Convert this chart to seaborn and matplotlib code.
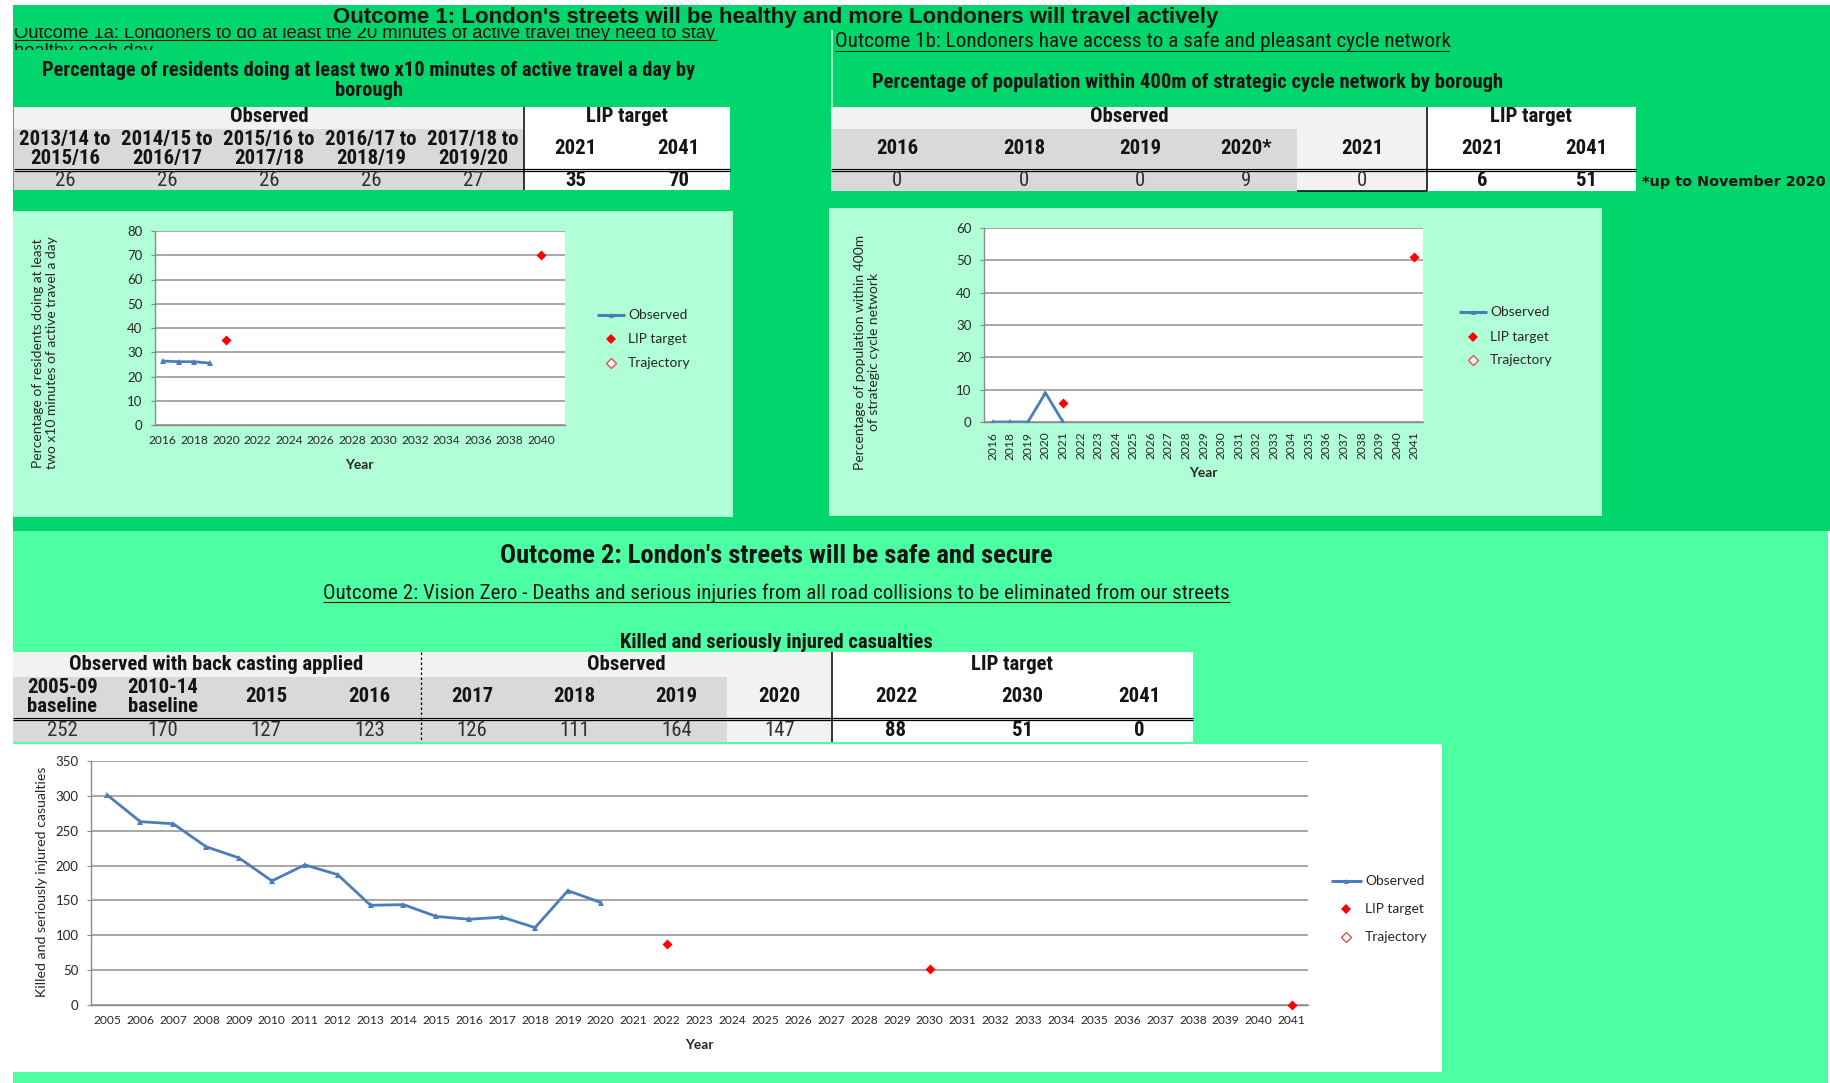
import numpy as np
import pandas as pd
import matplotlib
matplotlib.use("Agg")
import matplotlib.pyplot as plt
import seaborn as sns
from matplotlib import font_manager
from matplotlib.patches import Rectangle
from matplotlib.transforms import Bbox

# ---------------- data ----------------
# Outcome 1a: active travel
active_periods = ["2013/14 to\n2015/16", "2014/15 to\n2016/17", "2015/16 to\n2017/18",
                  "2016/17 to\n2018/19", "2017/18 to\n2019/20"]
active_observed = [26, 26, 26, 26, 27]
active_target_years = ["2021", "2041"]
active_targets = [35, 70]
active_axis_years = [str(y) for y in range(2016, 2042)]
active_line_years = ["2016", "2017", "2018", "2019"]
active_line_values = [26.4, 26.1, 26.1, 25.5]
active_point_years = ["2020", "2040"]

# Outcome 1b: strategic cycle network
cycle_years = ["2016", "2018", "2019", "2020*"]
cycle_observed = [0, 0, 0, 9]
cycle_extra_year = "2021"
cycle_extra_value = 0
cycle_target_years = ["2021", "2041"]
cycle_targets = [6, 51]
cycle_axis_years = ["2016"] + [str(y) for y in range(2018, 2042)]

# Outcome 2: killed and seriously injured casualties
ksi_back_cols = ["2005-09\nbaseline", "2010-14\nbaseline", "2015", "2016"]
ksi_back_values = [252, 170, 127, 123]
ksi_obs_cols = ["2017", "2018", "2019", "2020"]
ksi_obs_values = [126, 111, 164, 147]
ksi_target_years = ["2022", "2030", "2041"]
ksi_targets = [88, 51, 0]
ksi_axis_years = [str(y) for y in range(2005, 2042)]
ksi_line_years = [str(y) for y in range(2005, 2021)]
ksi_line_values = [301, 263, 260, 227, 211, 178, 201, 187, 143, 144,
                   127, 123, 126, 111, 164, 147]

legend_labels = ["Observed", "LIP target", "Trajectory"]

# ---------------- fonts & colours ----------------
names = {f.name for f in font_manager.fontManager.ttflist}


def pick(*cands):
    for c in cands:
        if c in names:
            return c
    return "DejaVu Sans"


def find_narrow():
    for n in ["Liberation Sans Narrow", "Arial Narrow", "Roboto Condensed",
              "Noto Sans Condensed", "Open Sans Condensed", "DejaVu Sans Condensed"]:
        if n in names:
            return n
    for f in font_manager.fontManager.ttflist:
        if f.stretch in ("condensed", "semi-condensed", "extra-condensed") and \
                f.name in ("Noto Sans", "DejaVu Sans", "Open Sans", "Roboto", "Liberation Sans"):
            return f.name
    return pick("Lato", "Liberation Sans")


SANS = pick("Liberation Sans", "Arimo", "DejaVu Sans")
NARROW = find_narrow()
CHART = pick("Lato", "Carlito", "DejaVu Sans")

sns.set_style("white")
plt.rcParams["font.family"] = [CHART, "DejaVu Sans"]

BLUE = "#4A7EBB"
RED = "#FF0000"
TOP_GREEN = "#00D66B"
LOW_GREEN = "#4DFFA3"
MINT = "#B0FFD6"
LIGHT = "#F2F2F2"
GRAY = "#D9D9D9"
INK = "#141414"
GRID = "#A0A0A0"
AXIS = "#8A8A8A"

W, H = 1831, 1083
fig = plt.figure(figsize=(W / 100, H / 100), dpi=100, facecolor="white")
bg = fig.add_axes([0, 0, 1, 1], zorder=0)
bg.set_xlim(0, W)
bg.set_ylim(H, 0)
bg.axis("off")
renderer = fig.canvas.get_renderer()

NKW = dict(family=NARROW, stretch="condensed")


def box(x0, y0, x1, y1, color, z=0.5):
    bg.add_patch(Rectangle((x0, y0), x1 - x0, y1 - y0, facecolor=color,
                           edgecolor="none", zorder=z))


def hline(x0, x1, y, color="black", lw=0.9, **kw):
    bg.plot([x0, x1], [y, y], color=color, lw=lw, solid_capstyle="butt", zorder=3, **kw)


def vline(x, y0, y1, color="black", lw=0.9, **kw):
    bg.plot([x, x], [y0, y1], color=color, lw=lw, solid_capstyle="butt", zorder=3, **kw)


def fit(x, y, s, width=None, height=None, size=12, **kw):
    t = bg.text(x, y, s, fontsize=size, zorder=4, **kw)
    ext = t.get_window_extent(renderer)
    if width:
        t.set_fontsize(size * width / ext.width)
    elif height:
        t.set_fontsize(size * height / ext.height)
    return t


def size_for(s, width, size=10, **kw):
    t = bg.text(0, 0, s, fontsize=size, **kw)
    w = t.get_window_extent(renderer).width
    t.remove()
    return size * width / w


def clip_rows(t, y_top, y_bottom):
    # keep only the horizontal band y_top..y_bottom (pixels from the top edge)
    t.set_clip_on(True)
    t.set_clip_box(Bbox.from_extents(0, H - y_bottom, W, H - y_top))


def px_axes(x0, y0, x1, y1):
    return fig.add_axes([x0 / W, 1 - y1 / H, (x1 - x0) / W, (y1 - y0) / H], zorder=2)


# ---------------- backgrounds ----------------
box(13, 5, W, 531, TOP_GREEN, z=0.1)
box(13, 531, 1828, H, LOW_GREEN, z=0.1)
box(13, 211, 733, 517, MINT, z=0.2)
box(829, 208, 1602, 516, MINT, z=0.2)
box(13, 744, 1442, 1072, "white", z=0.2)
vline(832, 30, 107, color="#C4F7DA", lw=1.1)

# ---------------- headings ----------------
fit(776, 18, "Outcome 1: London's streets will be healthy and more Londoners will travel actively",
    width=883, family=SANS, weight="bold", ha="center", va="center", color=INK)

sub_a1 = fit(14, 37.5, "Outcome 1a: Londoners to do at least the 20 minutes of active travel they need to stay",
             width=703, family=SANS, ha="left", va="baseline", color=INK)
clip_rows(sub_a1, 28, 41)
sub_a2 = bg.text(14, 55.5, "healthy each day", fontsize=sub_a1.get_fontsize(), family=SANS,
                 ha="left", va="baseline", color=INK, zorder=4)
clip_rows(sub_a2, 41, 50)
hline(14, 717, 40, color=INK, lw=0.8)

fit(835, 47, "Outcome 1b: Londoners have access to a safe and pleasant cycle network",
    width=614, ha="left", va="baseline", color=INK, **NKW)
hline(835, 1449, 51, color=INK, lw=0.8)

ta = fit(369, 71, "Percentage of residents doing at least two x10 minutes of active travel a day by",
         width=656, weight="bold", ha="center", va="center", color=INK, **NKW)
bg.text(369, 90, "borough", fontsize=ta.get_fontsize(), weight="bold", ha="center",
        va="center", color=INK, zorder=4, **NKW)
fit(1188, 82, "Percentage of population within 400m of strategic cycle network by borough",
    width=633, weight="bold", ha="center", va="center", color=INK, **NKW)
fit(1642, 182, "*up to November 2020", width=183, family="DejaVu Sans", weight="bold",
    ha="left", va="center", color=INK)

fit(776, 556, "Outcome 2: London's streets will be safe and secure", width=553,
    weight="bold", ha="center", va="center", color=INK, **NKW)
fit(776, 593, "Outcome 2: Vision Zero - Deaths and serious injuries from all road collisions to be "
    "eliminated from our streets", width=907, ha="center", va="center", color=INK, **NKW)
hline(323, 1230, 602, color=INK, lw=0.8)
fit(776, 643, "Killed and seriously injured casualties", width=315,
    weight="bold", ha="center", va="center", color=INK, **NKW)

# ---------------- tables ----------------
TAB = size_for("Observed with back casting applied", 295, weight="bold", **NKW)


def cell(x, y, s, bold=True, color=INK):
    bg.text(x, y, s, fontsize=TAB, weight="bold" if bold else "normal", ha="center",
            va="center", color=color, linespacing=1.05, zorder=4, **NKW)


def centers(bounds):
    return [(a + b) / 2 for a, b in zip(bounds[:-1], bounds[1:])]


# table 1a
box(14, 107, 524, 129, LIGHT)
box(14, 129, 524, 168, GRAY)
box(14, 168, 524, 171, LIGHT)
box(14, 171, 524, 190, GRAY)
box(524, 107, 730, 190, "white")
hline(14, 730, 168.5)
hline(14, 730, 171)
vline(524, 107, 190, lw=1.1)
a_obs = centers(np.linspace(14, 524, 6))
a_lip = centers([524, 627, 730])
cell(269, 117, "Observed")
cell(627, 117, "LIP target")
for x, lab, v in zip(a_obs, active_periods, active_observed):
    cell(x, 149, lab)
    cell(x, 181, str(v), bold=False, color="#303030")
for x, lab, v in zip(a_lip, active_target_years, active_targets):
    cell(x, 148, lab)
    cell(x, 181, str(v))

# table 1b
box(831, 107, 1427, 129, LIGHT)
box(831, 129, 1297, 168, GRAY)
box(1297, 129, 1427, 168, LIGHT)
box(831, 168, 1636, 171, LIGHT)
box(831, 171, 1297, 191, GRAY)
box(1297, 171, 1427, 191, LIGHT)
box(1427, 107, 1636, 191, "white")
hline(831, 1636, 168.5)
hline(831, 1636, 171)
hline(1297, 1427, 191, lw=1.1)
vline(1427, 107, 191, lw=1.1)
b_obs = centers([831, 963, 1086, 1195, 1297, 1427])
b_lip = centers([1427, 1537, 1636])
cell(1129, 117, "Observed")
cell(1531, 117, "LIP target")
for x, lab, v in zip(b_obs, cycle_years + [cycle_extra_year], cycle_observed + [cycle_extra_value]):
    cell(x, 148, lab)
    cell(x, 181, str(v), bold=False, color="#303030")
for x, lab, v in zip(b_lip, cycle_target_years, cycle_targets):
    cell(x, 148, lab)
    cell(x, 181, str(v))

# table 2
box(13, 652, 832, 677, LIGHT)
box(13, 677, 727, 717, GRAY)
box(727, 677, 832, 717, LIGHT)
box(13, 717, 1193, 720, LIGHT)
box(13, 720, 727, 742, GRAY)
box(727, 720, 832, 742, LIGHT)
box(832, 652, 1193, 742, "white")
hline(13, 1193, 717.5)
hline(13, 1193, 720)
vline(832, 652, 742, lw=1.1)
vline(421, 652, 742, lw=0.9, ls=(0, (2, 2)))
k_cols = centers([13, 112, 214, 318, 421, 523, 626, 727, 832])
k_lip = centers([832, 960, 1085, 1193])
cell(216, 664, "Observed with back casting applied")
cell(626, 664, "Observed")
cell(1012, 664, "LIP target")
for x, lab, v in zip(k_cols, ksi_back_cols + ksi_obs_cols, ksi_back_values + ksi_obs_values):
    cell(x, 697, lab)
    cell(x, 731, str(v), bold=False, color="#303030")
for x, lab, v in zip(k_lip, ksi_target_years, ksi_targets):
    cell(x, 697, lab)
    cell(x, 731, str(v))

# ---------------- charts ----------------
XFS = size_for("2005", 28, family=CHART)
YFS = size_for("350", 23, family=CHART)
LFS = size_for("Observed", 59, family=CHART)


def draw_series(ax, cats, line_years, line_vals, pt_years, pt_vals):
    line_df = pd.DataFrame({"pos": [cats.index(y) for y in line_years], "value": line_vals})
    sns.lineplot(data=line_df, x="pos", y="value", ax=ax, color=BLUE, lw=2.0, marker="^",
                 markersize=4, markeredgewidth=0, legend=False, zorder=4)
    pt_df = pd.DataFrame({"pos": [cats.index(y) for y in pt_years], "value": pt_vals})
    sns.scatterplot(data=pt_df, x="pos", y="value", ax=ax, marker="D", s=26, color=RED,
                    edgecolor=RED, linewidth=0, legend=False, zorder=5, clip_on=False)


def style_chart(ax, cats, ymax, ystep, every=1, rotate=False):
    n = len(cats)
    ax.set_facecolor("white")
    ax.set_xlim(-0.5, n - 0.5)
    ax.set_ylim(0, ymax)
    ax.set_yticks(np.arange(0, ymax + 1, ystep))
    ax.set_xticks(range(0, n, every))
    ax.set_xticklabels(cats[::every], rotation=90 if rotate else 0)
    ax.set_xticks(np.arange(-0.5, n, 1), minor=True)
    ax.tick_params(axis="x", which="major", length=0, pad=7, labelsize=XFS, labelcolor="#262626")
    ax.tick_params(axis="x", which="minor", length=3.5, width=0.8, color=AXIS, direction="out")
    ax.tick_params(axis="y", which="major", length=3, width=0.8, color=AXIS, direction="out",
                   pad=6, labelsize=YFS, labelcolor="#262626", left=True)
    ax.yaxis.grid(True, color=GRID, lw=1.3)
    ax.xaxis.grid(False)
    for s in ("top", "right"):
        ax.spines[s].set_visible(False)
    for s in ("left", "bottom"):
        ax.spines[s].set_color(AXIS)
        ax.spines[s].set_linewidth(1.0)
    ax.set_xlabel("")
    ax.set_ylabel("")


def legend(x0, x1, xt, ys):
    xm = (x0 + x1) / 2
    bg.plot([x0, x1], [ys[0], ys[0]], color=BLUE, lw=2.2, zorder=4, solid_capstyle="butt")
    bg.plot([xm], [ys[0]], marker="^", ms=3.5, color=BLUE, mew=0, zorder=4)
    bg.plot([xm], [ys[1]], marker="D", ms=4.6, color=RED, mew=0, ls="none", zorder=4)
    bg.plot([xm], [ys[2]], marker="D", ms=4.6, mfc="white", mec="#D9534F", mew=1.0,
            ls="none", zorder=4)
    for y, s in zip(ys, legend_labels):
        bg.text(xt, y, s, fontsize=LFS, family=CHART, ha="left", va="center",
                color="#262626", zorder=4)


# chart 1a
ax1 = px_axes(155, 231, 565, 425)
draw_series(ax1, active_axis_years, active_line_years, active_line_values,
            active_point_years, active_targets)
style_chart(ax1, active_axis_years, 80, 10, every=2)
legend(597, 625, 628, [315, 339, 363])
fit(45, 353, "Percentage of residents doing at least\ntwo x10 minutes of active travel a day",
    height=232, rotation=90, ha="center", va="center", family=CHART, color="#262626",
    linespacing=1.25)
bg.text(359, 465, "Year", fontsize=LFS, weight="bold", family=CHART, ha="center",
        va="center", color="#262626", zorder=4)

# chart 1b
ax2 = px_axes(984, 228, 1423, 422)
cycle_line_years = [y.rstrip("*") for y in cycle_years] + [cycle_extra_year]
draw_series(ax2, cycle_axis_years, cycle_line_years, cycle_observed + [cycle_extra_value],
            cycle_target_years, cycle_targets)
style_chart(ax2, cycle_axis_years, 60, 10, every=1, rotate=True)
legend(1459, 1487, 1490, [312, 337, 360])
fit(867, 352, "Percentage of population within 400m\nof strategic cycle network",
    height=235, rotation=90, ha="center", va="center", family=CHART, color="#262626",
    linespacing=1.25)
bg.text(1203, 473, "Year", fontsize=LFS, weight="bold", family=CHART, ha="center",
        va="center", color="#262626", zorder=4)

# chart 2
ax3 = px_axes(91, 761, 1308, 1005)
draw_series(ax3, ksi_axis_years, ksi_line_years, ksi_line_values,
            ksi_target_years, ksi_targets)
style_chart(ax3, ksi_axis_years, 350, 50, every=1)
legend(1331, 1362, 1365, [881, 909, 937])
fit(42, 882, "Killed and seriously injured casualties", height=229, rotation=90,
    ha="center", va="center", family=CHART, color="#262626")
bg.text(699, 1045, "Year", fontsize=LFS, weight="bold", family=CHART, ha="center",
        va="center", color="#262626", zorder=4)

fig.savefig("out.png", dpi=100, facecolor="white")
